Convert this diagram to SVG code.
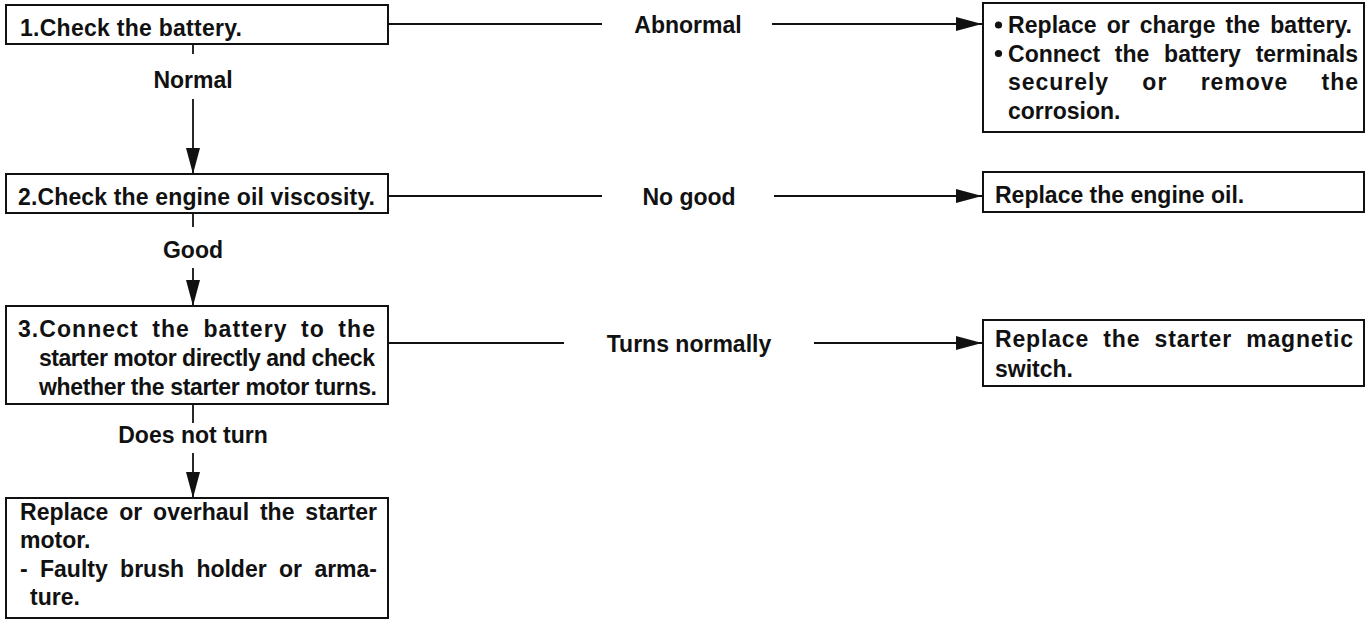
<svg xmlns="http://www.w3.org/2000/svg" width="1372" height="628" viewBox="0 0 1372 628">
<defs>
<marker id="ah" viewBox="0 0 26 14" refX="26" refY="7" markerWidth="26" markerHeight="14" markerUnits="userSpaceOnUse" orient="auto">
<path d="M0,0 L26,7 L0,14 Z" fill="#111"/>
</marker>
<style>
rect.box{fill:#fff;stroke:#111;stroke-width:2}
text{font-family:"Liberation Sans",Arial,Helvetica,sans-serif;font-weight:bold;font-size:23px;fill:#111}
text.lbl{text-anchor:middle}
.ln{stroke:#111;stroke-width:1.8;fill:none}
.arr{stroke:#111;stroke-width:1.8;fill:none;marker-end:url(#ah)}
</style>
</defs>
<rect width="1372" height="628" fill="#fff"/>

<g id="connectors">
<line class="ln" x1="193" y1="44" x2="193" y2="54"/>
<text class="lbl" x="193" y="88">Normal</text>
<line class="arr" x1="193" y1="99" x2="193" y2="174"/>

<line class="ln" x1="193" y1="213" x2="193" y2="227"/>
<text class="lbl" x="193" y="258">Good</text>
<line class="arr" x1="193" y1="268" x2="193" y2="306"/>

<line class="ln" x1="193" y1="404" x2="193" y2="423"/>
<text class="lbl" x="193" y="443">Does not turn</text>
<line class="arr" x1="193" y1="453" x2="193" y2="498"/>

<line class="ln" x1="388" y1="24" x2="602" y2="24"/>
<text class="lbl" x="688" y="33">Abnormal</text>
<line class="arr" x1="772" y1="24" x2="982" y2="24"/>

<line class="ln" x1="388" y1="196" x2="602" y2="196"/>
<text class="lbl" x="689" y="205">No good</text>
<line class="arr" x1="774" y1="196" x2="982" y2="196"/>

<line class="ln" x1="388" y1="343" x2="564" y2="343"/>
<text class="lbl" x="689" y="352">Turns normally</text>
<line class="arr" x1="814" y1="343" x2="982" y2="343"/>
</g>

<g id="step1">
<rect class="box" x="6" y="5" width="382" height="39"/>
<text x="20" y="36" textLength="222">1.Check the battery.</text>
</g>

<g id="step2">
<rect class="box" x="6" y="174" width="382" height="39"/>
<text x="18" y="205" textLength="357">2.Check the engine oil viscosity.</text>
</g>

<g id="step3">
<rect class="box" x="6" y="306" width="382" height="98"/>
<text x="18" y="337" word-spacing="6" textLength="357">3.Connect the battery to the</text>
<text x="39" y="366" textLength="336">starter motor directly and check</text>
<text x="39" y="395" textLength="338">whether the starter motor turns.</text>
</g>

<g id="step4">
<rect class="box" x="6" y="498" width="382" height="120"/>
<text x="20" y="520" word-spacing="4.5" textLength="357">Replace or overhaul the starter</text>
<text x="20" y="548">motor.</text>
<text x="20" y="577" word-spacing="6" textLength="357">- Faulty brush holder or arma-</text>
<text x="30" y="605">ture.</text>
</g>

<g id="fix-battery">
<rect class="box" x="983" y="3" width="381" height="129"/>
<circle cx="998.5" cy="25" r="3.6" fill="#111"/>
<text x="1008" y="33" word-spacing="3.5" textLength="344">Replace or charge the battery.</text>
<circle cx="998.5" cy="53.5" r="3.6" fill="#111"/>
<text x="1008" y="61.5" word-spacing="8.3" textLength="350">Connect the battery terminals</text>
<text x="1008" y="90" word-spacing="26" textLength="350">securely or remove the</text>
<text x="1008" y="118.5">corrosion.</text>
</g>

<g id="fix-oil">
<rect class="box" x="983" y="172" width="381" height="40"/>
<text x="995" y="203">Replace the engine oil.</text>
</g>

<g id="fix-switch">
<rect class="box" x="983" y="320" width="381" height="66"/>
<text x="995" y="347" word-spacing="7" textLength="358">Replace the starter magnetic</text>
<text x="995" y="377">switch.</text>
</g>
</svg>
